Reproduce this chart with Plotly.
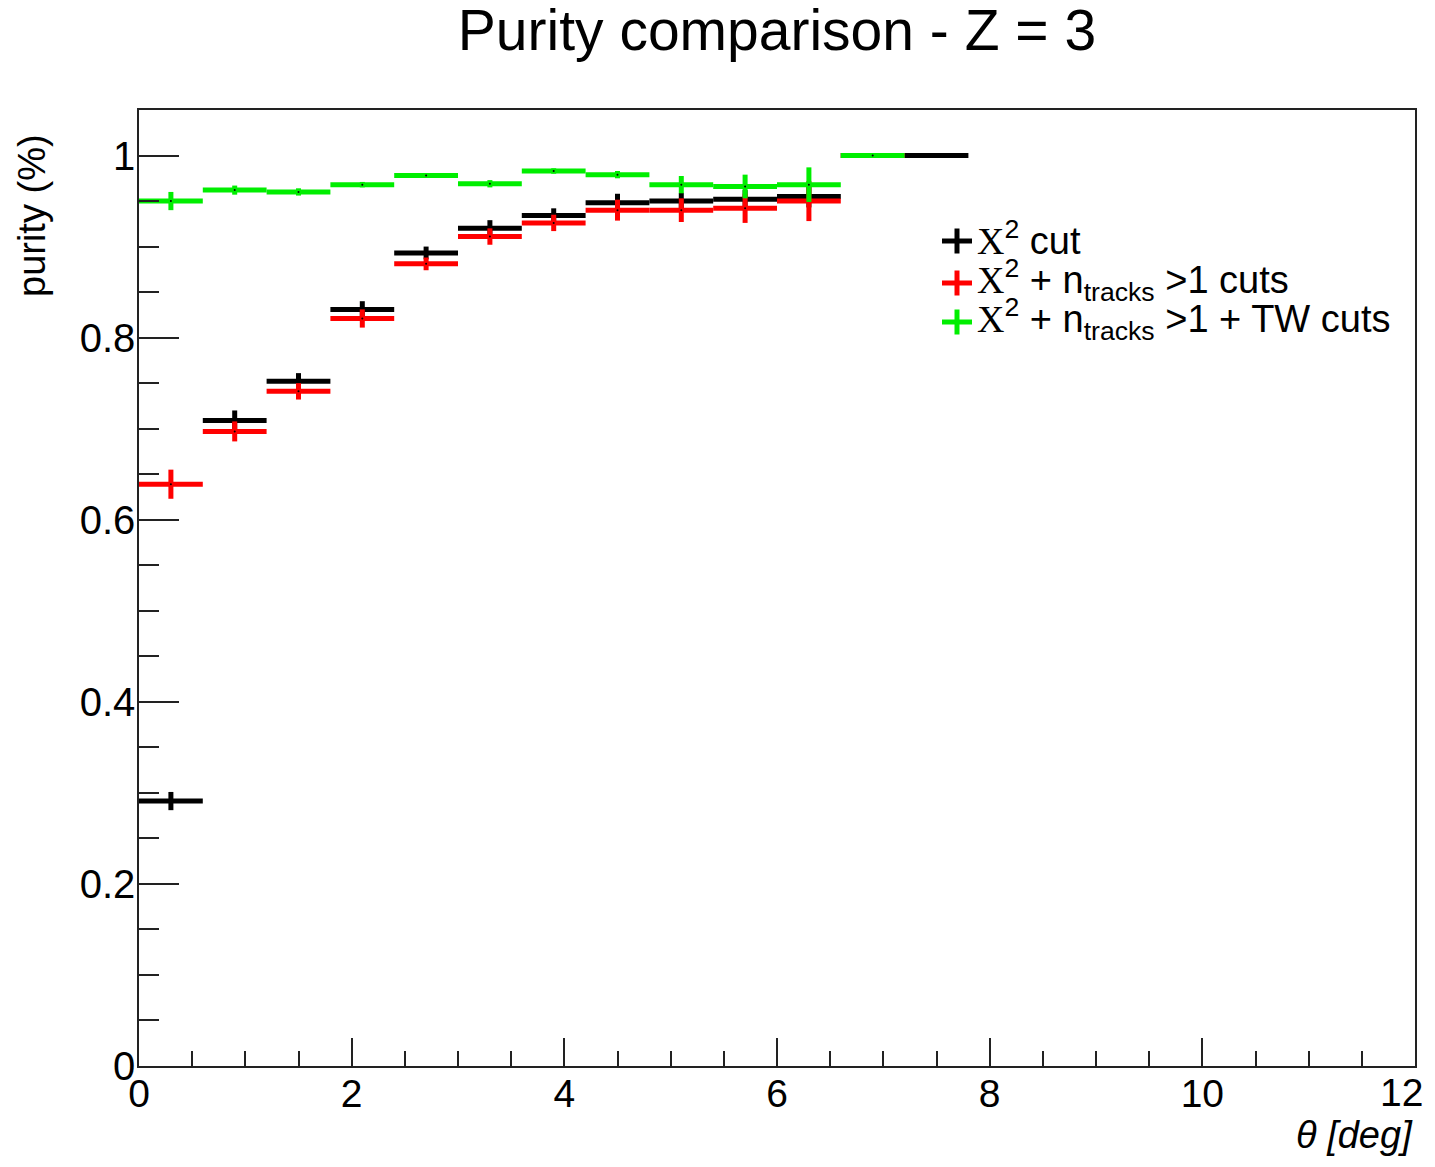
import plotly.graph_objects as go

# ---- data ----
theta_centers = [0.3, 0.9, 1.5, 2.1, 2.7, 3.3, 3.9, 4.5, 5.1, 5.7, 6.3, 6.9, 7.5]
half_bin = 0.3

chi2_purity = [0.291, 0.709, 0.752, 0.831, 0.893, 0.920, 0.934, 0.948, 0.950, 0.952, 0.955, 1.0, 1.0]
chi2_err = [0.010, 0.011, 0.009, 0.009, 0.007, 0.009, 0.008, 0.010, 0.009, 0.010, 0.012, 0.0, 0.0]

ntr_purity = [0.639, 0.697, 0.741, 0.821, 0.881, 0.911, 0.926, 0.940, 0.940, 0.942, 0.950, 1.0]
ntr_err = [0.016, 0.011, 0.009, 0.010, 0.007, 0.009, 0.009, 0.0115, 0.013, 0.016, 0.022, 0.0]

tw_purity = [0.950, 0.962, 0.960, 0.968, 0.978, 0.969, 0.983, 0.979, 0.968, 0.966, 0.968, 1.0]
tw_err = [0.010, 0.005, 0.004, 0.003, 0.002, 0.004, 0.003, 0.004, 0.0095, 0.013, 0.019, 0.0]

x_tick_vals = [0, 2, 4, 6, 8, 10, 12]
x_tick_text = ["0", "2", "4", "6", "8", "10", "12"]

series_names = [
    "<span style='font-family:Liberation Serif'>X</span><sup>2</sup> cut",
    "<span style='font-family:Liberation Serif'>X</span><sup>2</sup> + n<sub>tracks</sub> &gt;1 cuts",
    "<span style='font-family:Liberation Serif'>X</span><sup>2</sup> + n<sub>tracks</sub> &gt;1 + TW cuts",
]
series_colors = ["#000000", "#ff0000", "#00ee00"]

FONT = "Liberation Sans, Arial, sans-serif"

fig = go.Figure()
all_series = [(chi2_purity, chi2_err), (ntr_purity, ntr_err), (tw_purity, tw_err)]
for (vals, errs), col, name in zip(all_series, series_colors, series_names):
    n = len(vals)
    fig.add_trace(go.Scatter(
        x=theta_centers[:n], y=vals, mode="markers",
        marker=dict(size=2, color="black"),
        error_x=dict(type="constant", value=half_bin, thickness=5, width=0, color=col),
        error_y=dict(type="data", array=errs, thickness=5, width=0, color=col),
        showlegend=False, name=name,
    ))

# page offset (body margin) = 8px
OFF = 8
FIG_W = 1435 - OFF
FIG_H = 1167 - 2 * OFF
W0, W1 = 139, 1415
H0, H1 = 110, 1066
def px(xp):
    return (xp - W0) / (W1 - W0)
def py(yp):
    return (H1 - yp) / (H1 - H0)

# manual legend
leg_y = [241, 283, 322]
for yy, col, name in zip(leg_y, series_colors, series_names):
    fig.add_shape(type="line", xref="paper", yref="paper",
                  x0=px(942), x1=px(972), y0=py(yy), y1=py(yy),
                  line=dict(color=col, width=5))
    fig.add_shape(type="line", xref="paper", yref="paper",
                  x0=px(957), x1=px(957), y0=py(yy - 12.5), y1=py(yy + 12.5),
                  line=dict(color=col, width=5))
    fig.add_annotation(x=px(975), y=py(yy - 3), xref="paper", yref="paper",
                       text=name, showarrow=False, xanchor="left", yanchor="middle",
                       font=dict(family=FONT, size=38, color="black"))

# last x tick label (kept inside the page edge)
fig.add_annotation(x=x_tick_vals[-1], y=0, xref="x", yref="y", text=x_tick_text[-1],
                   showarrow=False, xanchor="right", yanchor="top", xshift=10, yshift=-3,
                   font=dict(family=FONT, size=39, color="black"))

# axis titles
fig.add_annotation(x=1.0, y=py(1135), xref="paper", yref="paper",
                   text="<i>θ [deg]</i>", showarrow=False, xanchor="right", yanchor="middle",
                   font=dict(family=FONT, size=38, color="black"))
fig.add_annotation(x=px(32), y=py(216), xref="paper", yref="paper",
                   text="purity (%)", showarrow=False, textangle=-90,
                   xanchor="center", yanchor="middle",
                   font=dict(family=FONT, size=38, color="black"))

fig.update_layout(
    width=FIG_W, height=FIG_H,
    margin=dict(l=W0 - OFF, r=FIG_W + OFF - W1, t=H0 - OFF, b=FIG_H + OFF - H1),
    paper_bgcolor="white", plot_bgcolor="white",
    title=dict(text="Purity comparison - Z = 3", x=0.5, xref="paper",
               y=1 - 22 / FIG_H, yref="container", xanchor="center", yanchor="middle",
               font=dict(family=FONT, size=57, color="black")),
    font=dict(family=FONT, size=40, color="black"),
    xaxis=dict(range=[0, 12], tickvals=x_tick_vals, ticktext=x_tick_text[:-1] + [""],
               ticks="inside", ticklen=28, tickwidth=1.5,
               tickcolor="#222", showgrid=False, zeroline=False,
               showline=True, linecolor="#222", linewidth=1.5, mirror=True,
               minor=dict(dtick=0.5, tick0=0, ticks="inside", ticklen=15, tickwidth=1.5, tickcolor="#222", showgrid=False),
               tickfont=dict(family=FONT, size=39),
               ticklabelstandoff=-8, automargin=False),
    yaxis=dict(range=[0, 1.05], dtick=0.2, tick0=0, ticks="inside", ticklen=40, tickwidth=1.5,
               tickcolor="#222", showgrid=False, zeroline=False,
               showline=True, linecolor="#222", linewidth=1.5, mirror=True,
               minor=dict(dtick=0.05, ticks="inside", ticklen=20, tickwidth=1.5, tickcolor="#222", showgrid=False),
               tickfont=dict(family=FONT, size=40), tickformat="~g",
               ticklabelstandoff=-6, automargin=False),
)

fig.write_html("out.html")
